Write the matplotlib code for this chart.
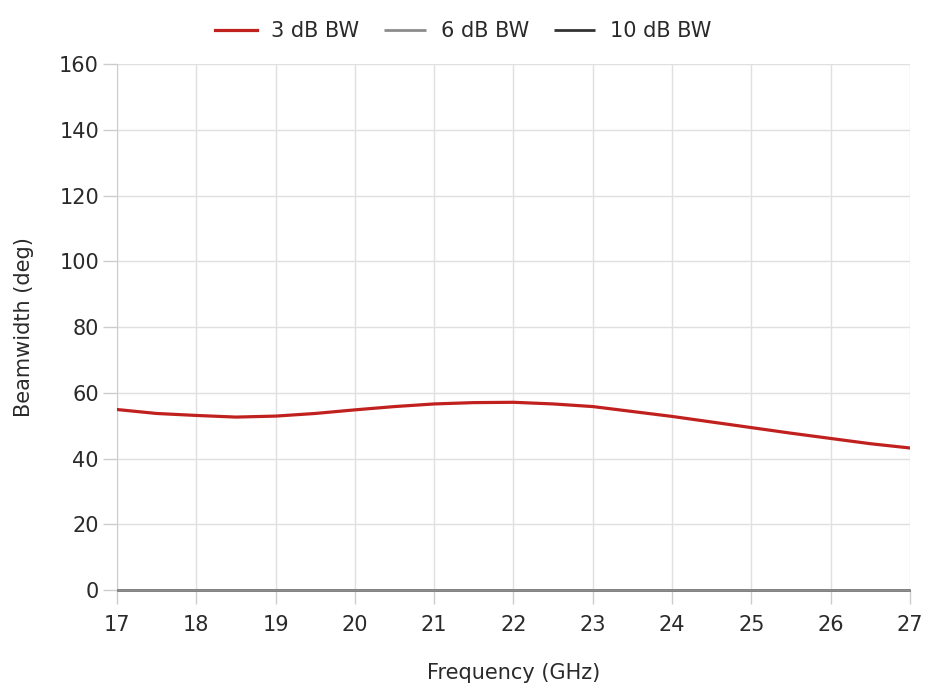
import numpy as np
import matplotlib
matplotlib.use("Agg")
import matplotlib.pyplot as plt

plt.rcParams['font.family'] = ['DejaVu Sans']

freq = [17, 17.5, 18, 18.5, 19, 19.5, 20, 20.5, 21, 21.5, 22, 22.5, 23, 23.5, 24, 24.5, 25, 25.5, 26, 26.5, 27]
bw3 = [54.9, 53.7, 53.1, 52.6, 52.9, 53.7, 54.8, 55.8, 56.6, 57.0, 57.1, 56.6, 55.8, 54.3, 52.8, 51.1, 49.4, 47.7, 46.1, 44.5, 43.2]
bw6 = [0] * len(freq)
bw10 = [0] * len(freq)

fig = plt.figure(figsize=(9.3, 6.96), dpi=100)
ax = fig.add_axes([0.1258, 0.1523, 0.8527, 0.7557])

ax.plot(freq, bw10, color='#333333', lw=2, label='10 dB BW', zorder=3, clip_on=False, solid_capstyle='butt')
ax.plot(freq, bw6, color='#8c8c8c', lw=2, label='6 dB BW', zorder=4, clip_on=False, solid_capstyle='butt')
ax.plot(freq, bw3, color='#c0211f', lw=2.3, label='3 dB BW', zorder=5)

ax.set_xlim(17, 27)
ax.set_ylim(0, 160)
ax.set_xticks(range(17, 28))
ax.set_yticks(range(0, 161, 20))
ax.grid(True, color='#e0e0e0', lw=1)
ax.set_axisbelow(True)
for s in ['top', 'right', 'bottom']:
    ax.spines[s].set_visible(False)
ax.spines['left'].set_color('#cccccc')
ax.tick_params(axis='both', colors='#cccccc', length=10, width=1, labelcolor='#2a2a2a', labelsize=15)
ax.tick_params(axis='y', pad=3)
ax.tick_params(axis='x', pad=8)

ax.set_xlabel('Frequency (GHz)', fontsize=15, color='#2a2a2a', labelpad=20)
ax.set_ylabel('Beamwidth (deg)', fontsize=15, color='#2a2a2a', labelpad=18)

h, l = ax.get_legend_handles_labels()
fig.legend(h[::-1], l[::-1], loc='center', bbox_to_anchor=(0.498, 0.955), ncol=3, frameon=False,
           fontsize=15, handlelength=2.0, handletextpad=0.7, columnspacing=1.2, labelcolor='#2a2a2a')

fig.savefig('out.png', dpi=100)
